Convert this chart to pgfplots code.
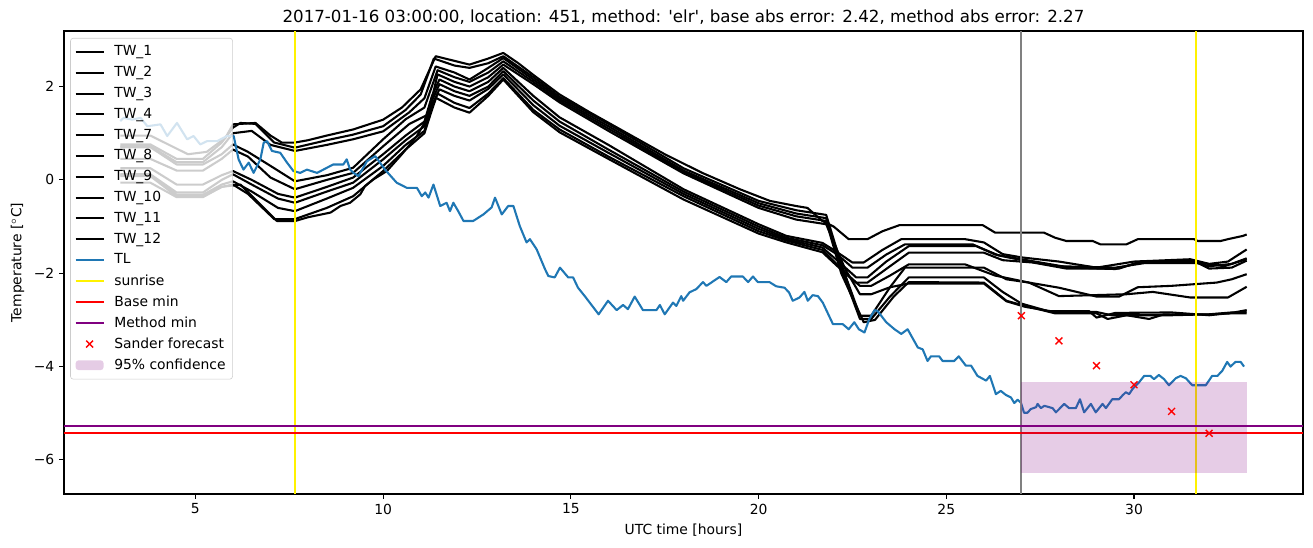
\documentclass[border=0pt]{standalone}
\usepackage{fontspec}
\setmainfont{DejaVu Sans}
\usepackage{pgfplots}
\pgfplotsset{compat=1.18}
\definecolor{tlblue}{HTML}{1F77B4}
\definecolor{mplpurple}{HTML}{800080}
\definecolor{mplgray}{HTML}{808080}
\definecolor{legframe}{HTML}{CCCCCC}
\begin{document}
\begin{tikzpicture}
\useasboundingbox (-46.08pt,-38.16pt) rectangle (899.28pt,355.68pt);
\begin{axis}[
  at={(0pt,0pt)}, anchor=south west,
  scale only axis, width=892.08pt, height=333.36pt,
  xmin=1.5, xmax=34.5, ymin=-6.73, ymax=3.19,
  xtick={5,10,15,20,25,30}, xticklabels={5,10,15,20,25,30},
  ytick={-6,-4,-2,0,2}, yticklabels={−6,−4,−2,0,2},
  tick align=outside, xtick pos=left, ytick pos=left,
  major tick length=3.5pt,
  tick label style={font=\fontsize{10}{12}\selectfont},
  xlabel={UTC time [hours]}, ylabel={Temperature [$^\circ$C]},
  label style={font=\fontsize{10}{12}\selectfont},
  title={2017-01-16 03:00:00, location: 451, method: \textquotesingle elr\textquotesingle, base abs error: 2.42, method abs error: 2.27},
  every axis title shift=0pt,
  title style={font=\fontsize{12}{14}\selectfont, at={(0.5,1)}, anchor=base, yshift=6pt, inner sep=0pt},
  axis line style={line width=0.8pt},
  every tick/.style={black, line width=0.8pt},
  legend style={at={(0,1)}, anchor=north west, xshift=4.5pt, yshift=-5pt, fill=white, fill opacity=0.8, text opacity=1, draw=legframe, draw opacity=1, rounded corners=2pt, font=\fontsize{10}{12}\selectfont, row sep=2.1pt, inner ysep=3.5pt, inner xsep=3pt, /tikz/every odd column/.append style={column sep=5pt}},
  legend cell align=left,
  legend image code/.code={\draw[mark repeat=2,mark phase=2,#1] plot coordinates {(0pt,0pt)(10pt,0pt)(20pt,0pt)};},
  every axis plot/.append style={line join=round},
]
\addplot[black, line width=1.5pt] coordinates {(3.0,0.95) (3.8,0.95) (4.3,0.75) (4.8,0.55) (5.3,0.6) (5.8,0.9) (6.0,1.19) (6.6,1.22) (7.0,0.95) (7.3,0.8) (7.65,0.8) (8.0,0.85) (8.5,0.95) (9.2,1.08) (10.0,1.29) (10.5,1.55) (11.0,1.94) (11.4,2.65) (11.9,2.55) (12.3,2.47) (12.8,2.6) (13.2,2.72) (13.6,2.5) (14.0,2.25) (14.7,1.83) (15.5,1.45) (16.5,1.0) (17.5,0.55) (18.5,0.15) (19.5,-0.2) (20.3,-0.45) (21.0,-0.56) (21.3,-0.6) (21.7,-0.88) (22.0,-1.0) (22.4,-1.27) (22.9,-1.27) (23.3,-1.1) (23.75,-0.97) (25.97,-0.97) (26.3,-1.13) (27.6,-1.13) (27.9,-1.24) (28.2,-1.31) (28.9,-1.31) (29.1,-1.38) (29.8,-1.38) (30.1,-1.27) (31.6,-1.27) (31.7,-1.31) (32.3,-1.31) (32.5,-1.27) (32.9,-1.2) (33.0,-1.17)};
\addlegendentry{TW\_1}
\addplot[black, line width=1.5pt] coordinates {(3.0,0.76) (3.8,0.76) (4.5,0.45) (5.2,0.45) (5.7,0.8) (6.0,1.12) (6.2,1.22) (6.6,1.2) (7.1,0.8) (7.65,0.69) (8.5,0.85) (9.2,0.97) (10.0,1.15) (10.6,1.5) (11.0,1.83) (11.35,2.6) (11.9,2.45) (12.3,2.4) (12.8,2.5) (13.2,2.65) (14.0,2.2) (14.7,1.78) (16.0,1.2) (18.0,0.25) (20.0,-0.45) (21.0,-0.65) (21.8,-0.75) (22.2,-1.8) (22.7,-2.91) (23.0,-2.91) (23.5,-2.3) (23.9,-1.88) (26.0,-1.88) (26.6,-2.13) (27.2,-2.2) (28.0,-2.49) (29.8,-2.45) (30.5,-2.4) (31.5,-2.52) (32.5,-2.52) (33.0,-2.29)};
\addlegendentry{TW\_2}
\addplot[black, line width=1.5pt] coordinates {(3.0,0.72) (3.8,0.72) (4.5,0.38) (5.2,0.38) (5.7,0.7) (6.0,1.0) (6.5,1.05) (7.0,0.75) (7.65,0.62) (8.5,0.75) (9.2,0.87) (10.0,1.04) (10.7,1.45) (11.1,1.75) (11.4,2.43) (11.9,2.3) (12.3,2.15) (12.8,2.4) (13.2,2.61) (14.0,2.15) (14.7,1.74) (16.0,1.15) (18.0,0.2) (20.0,-0.5) (21.0,-0.72) (21.8,-0.82) (22.2,-1.9) (22.7,-2.98) (23.0,-2.98) (23.5,-2.5) (24.0,-2.09) (26.0,-2.09) (26.5,-2.4) (27.0,-2.65) (27.7,-2.81) (28.8,-2.81) (29.0,-2.95) (29.5,-2.85) (31.0,-2.84) (32.0,-2.9) (32.6,-2.85) (33.0,-2.79)};
\addlegendentry{TW\_3}
\addplot[black, line width=1.5pt] coordinates {(3.0,0.70) (3.8,0.70) (4.5,0.33) (5.2,0.33) (5.7,0.55) (6.0,0.76) (6.4,0.6) (7.0,0.3) (7.65,-0.03) (8.5,0.1) (9.2,0.26) (10.0,0.87) (10.6,1.3) (11.1,1.55) (11.45,2.35) (11.9,2.2) (12.3,2.1) (12.8,2.3) (13.2,2.54) (14.0,2.1) (14.7,1.70) (16.0,1.1) (18.0,0.17) (20.0,-0.55) (21.0,-0.78) (21.8,-0.88) (22.2,-2.0) (22.8,-3.05) (23.1,-3.0) (23.6,-2.5) (24.0,-2.19) (26.0,-2.2) (26.6,-2.59) (27.1,-2.7) (27.9,-2.86) (29.0,-2.86) (29.3,-2.98) (29.8,-2.9) (30.4,-2.98) (30.8,-2.88) (32.0,-2.88) (32.6,-2.84) (33.0,-2.83)};
\addlegendentry{TW\_4}
\addplot[black, line width=1.5pt] coordinates {(3.0,0.45) (3.8,0.45) (4.5,0.2) (5.2,0.2) (5.7,0.45) (6.0,0.65) (6.4,0.5) (7.0,0.05) (7.65,-0.20) (8.5,0.0) (9.2,0.15) (10.0,0.72) (10.7,1.2) (11.2,1.4) (11.45,2.26) (11.9,2.1) (12.3,2.0) (12.8,2.2) (13.2,2.47) (14.0,2.05) (14.7,1.66) (16.0,1.05) (18.0,0.14) (20.0,-0.6) (21.0,-0.85) (21.8,-0.95) (22.3,-1.9) (22.7,-2.45) (23.0,-2.45) (23.5,-2.3) (24.0,-2.22) (26.0,-2.22) (26.6,-2.6) (27.1,-2.72) (27.9,-2.83) (29.0,-2.83) (29.4,-2.9) (31.0,-2.9) (32.0,-2.88) (32.6,-2.86) (33.0,-2.86)};
\addlegendentry{TW\_7}
\addplot[black, line width=1.5pt] coordinates {(3.0,0.25) (3.8,0.25) (4.5,-0.1) (5.2,-0.1) (5.7,0.1) (6.0,0.19) (6.5,0.0) (7.2,-0.3) (7.65,-0.38) (8.5,-0.15) (9.2,0.05) (10.0,0.55) (10.6,0.95) (11.1,1.25) (11.3,1.8) (11.5,2.15) (11.9,2.0) (12.3,1.9) (12.8,2.1) (13.2,2.40) (14.0,1.8) (14.7,1.34) (16.0,0.75) (18.0,-0.2) (20.0,-0.95) (20.74,-1.2) (21.7,-1.35) (22.0,-1.5) (22.5,-1.77) (22.8,-1.77) (23.3,-1.5) (23.8,-1.27) (25.5,-1.27) (26.0,-1.34) (26.5,-1.59) (27.0,-1.66) (28.0,-1.75) (29.0,-1.88) (30.0,-1.75) (31.5,-1.70) (32.0,-1.8) (32.5,-1.75) (33.0,-1.49)};
\addlegendentry{TW\_8}
\addplot[black, line width=1.5pt] coordinates {(3.0,0.12) (3.8,0.12) (4.5,-0.27) (5.2,-0.27) (5.7,0.0) (6.0,0.12) (6.5,-0.1) (7.2,-0.4) (7.65,-0.49) (8.5,-0.25) (9.2,-0.06) (10.0,0.44) (10.6,0.85) (11.1,1.15) (11.3,1.7) (11.5,2.05) (11.9,1.9) (12.3,1.8) (12.8,2.0) (13.2,2.33) (14.0,1.7) (14.7,1.25) (16.0,0.65) (18.0,-0.25) (20.0,-1.0) (20.74,-1.24) (21.7,-1.4) (22.1,-1.6) (22.5,-1.88) (22.9,-1.88) (23.4,-1.6) (23.9,-1.38) (25.7,-1.38) (26.3,-1.6) (27.0,-1.7) (28.3,-1.88) (29.5,-1.91) (30.3,-1.74) (31.5,-1.74) (32.0,-1.85) (32.6,-1.8) (33.0,-1.68)};
\addlegendentry{TW\_9}
\addplot[black, line width=1.5pt] coordinates {(3.0,0.10) (3.8,0.10) (4.5,-0.32) (5.2,-0.32) (5.7,-0.1) (6.0,-0.03) (6.5,-0.25) (7.2,-0.6) (7.65,-0.67) (8.5,-0.4) (9.2,-0.17) (10.0,0.30) (10.6,0.75) (11.1,1.05) (11.3,1.6) (11.5,1.94) (11.9,1.8) (12.3,1.7) (12.8,1.95) (13.2,2.26) (14.0,1.6) (14.7,1.16) (16.0,0.58) (18.0,-0.3) (20.0,-1.05) (20.74,-1.27) (21.7,-1.45) (22.2,-1.8) (22.6,-2.09) (22.9,-2.09) (23.4,-1.75) (24.0,-1.42) (25.8,-1.42) (26.4,-1.62) (27.2,-1.75) (28.0,-1.85) (29.5,-1.88) (30.3,-1.78) (31.8,-1.78) (32.4,-1.85) (33.0,-1.70)};
\addlegendentry{TW\_10}
\addplot[black, line width=1.5pt] coordinates {(3.0,0.08) (3.8,0.08) (4.5,-0.35) (5.2,-0.35) (5.7,-0.15) (6.0,-0.10) (6.4,-0.3) (7.1,-0.84) (7.65,-0.84) (8.5,-0.6) (9.2,-0.35) (10.0,0.19) (10.6,0.65) (11.1,1.0) (11.3,1.5) (11.45,1.85) (11.9,1.65) (12.3,1.54) (12.8,1.85) (13.2,2.18) (14.0,1.5) (14.7,1.08) (16.0,0.5) (18.0,-0.35) (20.0,-1.1) (20.74,-1.3) (21.7,-1.5) (22.2,-1.9) (22.6,-2.2) (22.9,-2.2) (23.5,-1.85) (24.0,-1.56) (26.0,-1.56) (26.5,-1.72) (27.3,-1.77) (28.2,-1.9) (29.6,-1.9) (30.2,-1.74) (31.6,-1.74) (32.0,-1.9) (32.6,-1.88) (33.0,-1.73)};
\addlegendentry{TW\_11}
\addplot[black, line width=1.5pt] coordinates {(3.0,-0.06) (3.8,-0.06) (4.5,-0.37) (5.2,-0.37) (5.7,-0.15) (6.2,-0.1) (7.17,-0.88) (7.66,-0.88) (8.0,-0.8) (8.6,-0.7) (8.86,-0.56) (9.12,-0.49) (9.39,-0.31) (9.52,-0.13) (9.74,0.01) (10.1,0.19) (10.5,0.55) (10.9,0.94) (11.1,1.22) (11.25,1.51) (11.4,1.76) (11.9,1.55) (12.3,1.44) (12.8,1.8) (13.2,2.15) (14.0,1.45) (14.7,1.02) (16.0,0.45) (18.0,-0.42) (20.0,-1.15) (20.74,-1.34) (21.7,-1.55) (22.3,-2.0) (22.7,-2.27) (23.0,-2.27) (23.5,-2.05) (24.0,-1.81) (25.5,-1.81) (26.3,-2.05) (27.2,-2.2) (28.0,-2.31) (29.0,-2.5) (29.6,-2.5) (30.1,-2.3) (31.0,-2.27) (32.2,-2.2) (32.6,-2.13) (33.0,-2.02)};
\addlegendentry{TW\_12}
\addplot[tlblue, line width=1.5pt] coordinates {(3.0,1.26) (3.09,1.33) (3.32,1.29) (3.54,1.33) (3.72,1.15) (4.07,1.19) (4.25,0.94) (4.51,1.22) (4.78,0.87) (4.95,0.94) (5.13,0.76) (5.31,0.83) (5.58,0.83) (5.84,0.94) (6.02,0.94) (6.15,0.44) (6.28,0.22) (6.42,0.37) (6.55,0.15) (6.73,0.44) (6.82,0.80) (6.91,0.83) (7.04,0.62) (7.26,0.58) (7.44,0.37) (7.61,0.19) (7.79,0.15) (7.97,0.22) (8.24,0.15) (8.67,0.33) (8.94,0.33) (9.03,0.44) (9.12,0.22) (9.21,0.15) (9.34,0.08) (9.57,0.40) (9.79,0.51) (10.05,0.22) (10.36,-0.06) (10.63,-0.17) (10.90,-0.17) (11.03,-0.35) (11.12,-0.27) (11.21,-0.38) (11.34,-0.10) (11.52,-0.56) (11.69,-0.49) (11.78,-0.67) (11.87,-0.49) (12.00,-0.67) (12.14,-0.88) (12.40,-0.88) (12.67,-0.74) (12.89,-0.59) (12.98,-0.38) (13.16,-0.74) (13.33,-0.56) (13.47,-0.56) (13.64,-0.99) (13.82,-1.34) (13.91,-1.27) (14.09,-1.49) (14.31,-1.91) (14.40,-2.06) (14.57,-2.09) (14.71,-1.88) (14.93,-2.09) (15.06,-2.09) (15.19,-2.31) (15.37,-2.49) (15.74,-2.88) (15.99,-2.59) (16.22,-2.79) (16.39,-2.68) (16.52,-2.77) (16.70,-2.50) (16.92,-2.79) (17.28,-2.79) (17.37,-2.68) (17.50,-2.88) (17.72,-2.63) (17.81,-2.70) (17.94,-2.49) (17.99,-2.59) (18.16,-2.41) (18.34,-2.34) (18.52,-2.19) (18.61,-2.27) (18.74,-2.20) (18.96,-2.08) (19.14,-2.19) (19.27,-2.07) (19.58,-2.07) (19.72,-2.19) (19.85,-2.07) (19.98,-2.19) (20.29,-2.19) (20.47,-2.28) (20.69,-2.31) (20.81,-2.41) (20.91,-2.59) (21.09,-2.52) (21.22,-2.40) (21.31,-2.59) (21.44,-2.47) (21.58,-2.49) (21.71,-2.63) (21.98,-3.09) (22.24,-3.09) (22.40,-3.20) (22.55,-3.05) (22.67,-3.20) (22.82,-3.27) (22.95,-2.98) (23.09,-2.79) (23.17,-2.81) (23.40,-3.05) (23.62,-3.20) (23.80,-3.30) (23.97,-3.20) (24.24,-3.59) (24.37,-3.63) (24.50,-3.88) (24.59,-3.78) (24.81,-3.78) (24.90,-3.88) (25.21,-3.88) (25.33,-3.78) (25.52,-3.98) (25.66,-3.98) (25.83,-4.20) (26.06,-4.30) (26.16,-4.20) (26.32,-4.59) (26.45,-4.52) (26.59,-4.61) (26.72,-4.66) (26.81,-4.78) (26.90,-4.71) (26.99,-4.78) (27.07,-4.99) (27.16,-4.99) (27.25,-4.91) (27.39,-4.87) (27.43,-4.80) (27.52,-4.89) (27.61,-4.84) (27.83,-4.89) (27.92,-4.98) (28.14,-4.80) (28.27,-4.89) (28.45,-4.89) (28.56,-4.70) (28.67,-4.98) (28.85,-4.80) (28.98,-4.98) (29.16,-4.80) (29.25,-4.89) (29.42,-4.70) (29.60,-4.70) (29.69,-4.62) (29.78,-4.55) (29.87,-4.59) (29.96,-4.48) (30.13,-4.34) (30.27,-4.20) (30.44,-4.20) (30.53,-4.27) (30.66,-4.18) (30.80,-4.27) (30.93,-4.40) (31.11,-4.25) (31.24,-4.20) (31.38,-4.25) (31.55,-4.40) (31.91,-4.40) (32.08,-4.20) (32.22,-4.20) (32.35,-4.09) (32.48,-3.90) (32.57,-4.00) (32.70,-3.90) (32.84,-3.90) (32.93,-4.00)};
\addlegendentry{TL}
\addplot[yellow, line width=1.5pt] coordinates {(7.65,-6.73) (7.65,3.19)};
\addlegendentry{sunrise}
\addplot[yellow, line width=1.5pt, forget plot] coordinates {(31.64,-6.73) (31.64,3.19)};
\addplot[mplgray, line width=1.5pt, forget plot] coordinates {(27.0,-6.73) (27.0,3.19)};
\addplot[red, line width=1.5pt] coordinates {(1.5,-5.43) (34.5,-5.43)};
\addlegendentry{Base min}
\addplot[mplpurple, line width=1.5pt] coordinates {(1.5,-5.27) (34.5,-5.27)};
\addlegendentry{Method min}
\addplot[red, only marks, mark=x, mark size=3.5pt, line width=1pt] coordinates {(27,-2.91) (28,-3.45) (29,-3.98) (30,-4.39) (31,-4.96) (32,-5.43)};
\addlegendentry{Sander forecast}
\addplot[draw=none, fill=mplpurple, fill opacity=0.2, legend image code/.code={\fill[mplpurple, fill opacity=0.2] (0pt,-3.5pt) rectangle (20pt,3.5pt);}] coordinates {(27,-6.29) (33,-6.29) (33,-4.32) (27,-4.32)} -- cycle;
\addlegendentry{95\% confidence}
\end{axis}
\end{tikzpicture}
\end{document}
